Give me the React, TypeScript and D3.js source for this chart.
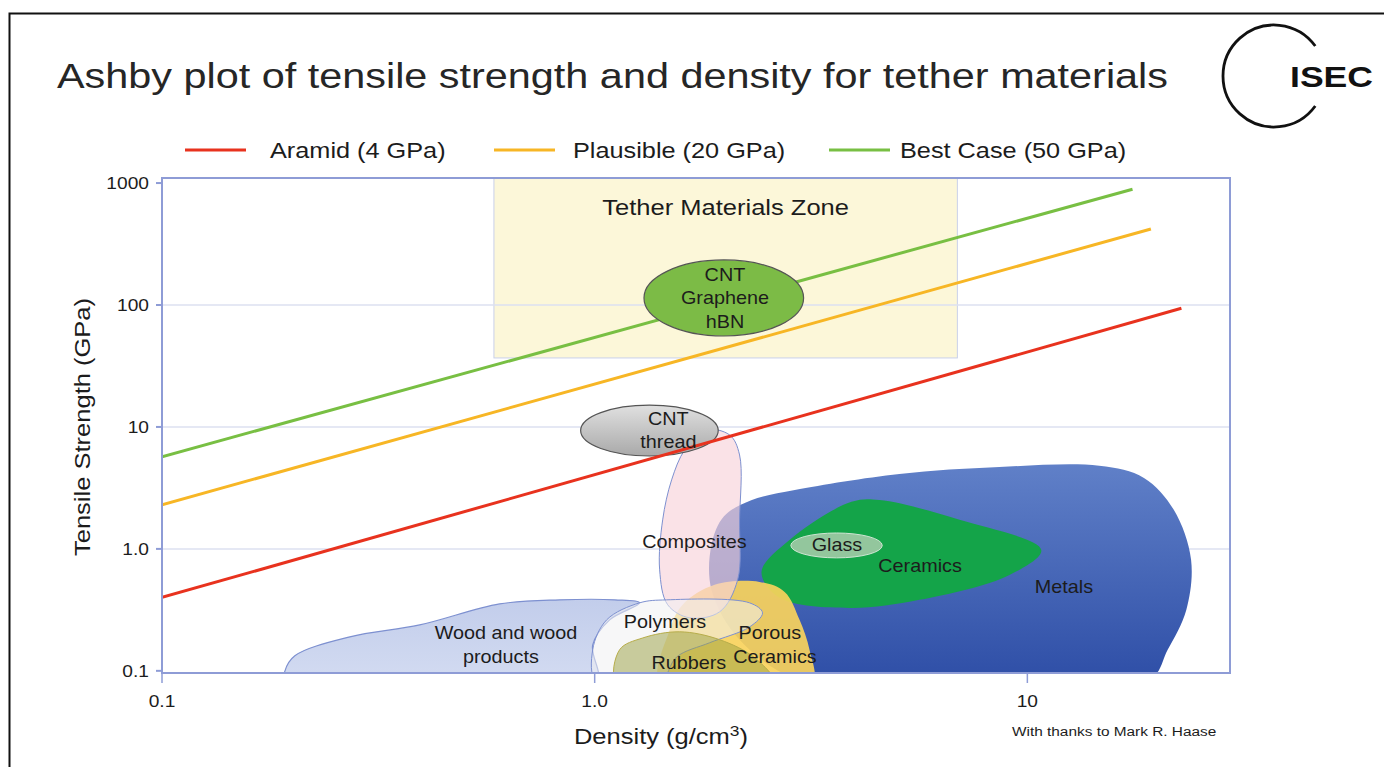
import React from "react";
import * as d3 from "d3";

// ---------- data ----------
const xTicks = [0.1, 1, 10];
const xTickLabels = ["0.1", "1.0", "10"];
const yTicks = [0.1, 1, 10, 100, 1000];
const yTickLabels = ["0.1", "1.0", "10", "100", "1000"];

const seriesNames = ["Aramid (4 GPa)", "Plausible (20 GPa)", "Best Case (50 GPa)"];
const seriesColors = ["#e8321e", "#f7b625", "#78bf43"];
const aramidLine: [number, number][] = [[0.1, 0.4], [22.7, 94]];
const plausibleLine: [number, number][] = [[0.1, 2.3], [19.3, 420]];
const bestCaseLine: [number, number][] = [[0.1, 5.7], [17.5, 890]];
const specificLines = [aramidLine, plausibleLine, bestCaseLine];

// Tether zone [densityMin, densityMax, strengthMin]
const tetherZone = [0.585, 6.89, 36.8];

// ellipses: [densityLeft, densityRight, strengthBottom, strengthTop]
const cntGrapheneEllipse = [1.3, 3.04, 55.7, 234];
const cntThreadEllipse = [0.928, 1.93, 5.78, 15.1];
const glassEllipse = [2.84, 4.62, 0.844, 1.35];

// material regions: [density, strength]
const woodRegion: [number, number][] = [
  [0.1924, 0.08], [0.1924, 0.1], [0.2028, 0.133], [0.2718, 0.19], [0.394, 0.238], [0.603, 0.354],
  [0.83, 0.382], [1.112, 0.382], [1.27, 0.361], [1.083, 0.262], [0.9895, 0.163], [1.011, 0.08], [0.5, 0.075],
];
const metalsRegion: [number, number][] = [
  [1.862, 1.079], [1.99, 1.85], [2.3, 2.5], [2.9, 3.04], [5.06, 4.12], [8.61, 4.7], [14.66, 4.8],
  [18.6, 3.82], [21.8, 2.09], [23.9, 0.813], [23.3, 0.316], [21.1, 0.149], [19.1, 0.084],
  [6.0, 0.075], [2.975, 0.084], [2.162, 0.18], [1.862, 0.461],
];
const ceramicsRegion: [number, number][] = [
  [2.43, 0.648], [2.82, 1.185], [3.92, 2.43], [4.55, 2.52], [6.97, 1.73], [10.77, 0.981],
  [9.09, 0.612], [5.63, 0.382], [3.88, 0.328], [2.675, 0.397],
];
const compositesRegion: [number, number][] = [
  [1.795, 9.45], [2.05, 8.6], [2.162, 5.89], [2.162, 1.73], [2.14, 0.557], [1.945, 0.305],
  [1.658, 0.272], [1.475, 0.348], [1.413, 0.673], [1.436, 1.73], [1.506, 3.68], [1.614, 6.48],
];
const polymersRegion: [number, number][] = [
  [1.27, 0.361], [1.467, 0.382], [2.28, 0.361], [2.443, 0.299], [2.28, 0.229], [1.844, 0.17],
  [1.547, 0.13], [1.413, 0.08], [1.011, 0.08], [0.9895, 0.149], [1.066, 0.262],
];
const porousCeramicsRegion: [number, number][] = [
  [1.597, 0.348], [1.893, 0.507], [2.404, 0.536], [2.748, 0.444], [2.975, 0.262], [3.137, 0.149],
  [3.188, 0.08], [2.2, 0.075], [1.413, 0.08], [1.49, 0.215],
];
const rubbersRegion: [number, number][] = [
  [1.124, 0.08], [1.142, 0.149], [1.291, 0.186], [1.572, 0.209], [1.945, 0.18], [2.342, 0.128],
  [2.6, 0.08], [1.8, 0.075],
];

// labels: [text, density, strength]
const regionLabels: [string, number, number][] = [
  ["Wood and wood", 0.624, 0.2],
  ["products", 0.607, 0.128],
  ["Polymers", 1.454, 0.247],
  ["Porous", 2.54, 0.2],
  ["Ceramics", 2.61, 0.128],
  ["Rubbers", 1.65, 0.113],
  ["Composites", 1.7, 1.12],
  ["Glass", 3.63, 1.06],
  ["Ceramics", 5.65, 0.711],
  ["Metals", 12.15, 0.478],
  ["CNT", 1.48, 11.4],
  ["thread", 1.48, 7.4],
  ["CNT", 2.0, 173],
  ["Graphene", 2.0, 111],
  ["hBN", 2.0, 71],
];

// ---------- layout ----------
const W = 1384;
const H = 767;
const x = d3.scaleLog().domain([0.1, 29.4]).range([162, 1230]);
const y = d3.scaleLog().domain([0.096, 1100]).range([673, 178]);
const FONT = "'Liberation Sans', Arial, Helvetica, sans-serif";
const axisColor = "#8e9cd6";
const regionStroke = "#7d90d0";

const areaPath = (pts: [number, number][]) =>
  d3.line<[number, number]>().x((d) => x(d[0])).y((d) => y(d[1])).curve(d3.curveCatmullRomClosed.alpha(0.5))(pts) || "";

function Ell({ e, fill, stroke, sw }: { e: number[]; fill: string; stroke: string; sw: number }) {
  const x0 = x(e[0]), x1 = x(e[1]), y0 = y(e[2]), y1 = y(e[3]);
  return <ellipse cx={(x0 + x1) / 2} cy={(y0 + y1) / 2} rx={(x1 - x0) / 2} ry={(y0 - y1) / 2} fill={fill} stroke={stroke} strokeWidth={sw} />;
}

function T({ x: tx, y: ty, size, sx = 1, anchor = "start", rot = 0, mid = false, weight, children }: any) {
  return (
    <text
      transform={`translate(${tx},${ty}) rotate(${rot}) scale(${sx},1)`}
      fontSize={size}
      fill="#1c1c1c"
      textAnchor={anchor}
      dominantBaseline={mid ? "middle" : undefined}
      fontWeight={weight}
    >
      {children}
    </text>
  );
}

export default function App() {
  const [px0, px1] = x.range();
  const [py0, py1] = y.range();
  const legendX = [185, 494, 829];
  const legendTextX = [270, 573, 900];
  const r = 51, cx = 1274, cy = 76, a = (36 * Math.PI) / 180;
  const arcD = `M${cx + r * Math.cos(a)},${cy - r * Math.sin(a)} A${r},${r} 0 1 0 ${cx + r * Math.cos(a)},${cy + r * Math.sin(a)}`;
  return (
    <svg width={W} height={H} style={{ position: "absolute", left: 0, top: 0, background: "#fff" }} fontFamily={FONT}>
      <defs>
        <clipPath id="plotClip">
          <rect x={px0} y={py1} width={px1 - px0} height={py0 - py1} />
        </clipPath>
        <linearGradient id="metalGrad" x1="0" y1="0" x2="0" y2="1">
          <stop offset="0" stopColor="#6080c8" />
          <stop offset="1" stopColor="#2c4ca5" />
        </linearGradient>
        <linearGradient id="threadGrad" x1="0" y1="0" x2="0" y2="1">
          <stop offset="0" stopColor="#e0e0e0" />
          <stop offset="1" stopColor="#a9a9a9" />
        </linearGradient>
        <linearGradient id="woodGrad" x1="0" y1="0" x2="0" y2="1">
          <stop offset="0" stopColor="#c2cdeb" />
          <stop offset="1" stopColor="#d5ddf2" />
        </linearGradient>
      </defs>

      {/* slide frame */}
      <path d={`M9.5,${H} V13.5 H${W}`} fill="none" stroke="#111" strokeWidth={2} />

      {/* title */}
      <text x={57} y={88} fontSize={35} fill="#262626" textLength={1111} lengthAdjust="spacingAndGlyphs">
        Ashby plot of tensile strength and density for tether materials
      </text>

      {/* logo */}
      <path d={arcD} fill="none" stroke="#111" strokeWidth={2.8} />
      <text x={1290} y={87} fontSize={30} fontWeight="bold" fill="#111" textLength={83} lengthAdjust="spacingAndGlyphs">ISEC</text>

      {/* legend */}
      {seriesNames.map((n, i) => (
        <g key={n}>
          <line x1={legendX[i]} x2={legendX[i] + 61} y1={150} y2={150} stroke={seriesColors[i]} strokeWidth={3} />
          <T x={legendTextX[i]} y={158} size={22} sx={1.15}>{n}</T>
        </g>
      ))}

      {/* tether zone */}
      <rect x={x(tetherZone[0])} y={py1} width={x(tetherZone[1]) - x(tetherZone[0])} height={y(tetherZone[2]) - py1} fill="#fcf7d9" stroke="#c9d0ea" strokeWidth={1} />
      <T x={(x(tetherZone[0]) + x(tetherZone[1])) / 2} y={215} size={22} sx={1.16} anchor="middle">Tether Materials Zone</T>

      {/* gridlines */}
      {yTicks.slice(1, 4).map((t) => (
        <line key={t} x1={px0} x2={px1} y1={y(t)} y2={y(t)} stroke="#dce1f1" strokeWidth={1.5} />
      ))}

      <g clipPath="url(#plotClip)">
        <path d={areaPath(woodRegion)} fill="url(#woodGrad)" stroke={regionStroke} strokeWidth={1.2} />
        <path d={areaPath(metalsRegion)} fill="url(#metalGrad)" />
        <path d={areaPath(ceramicsRegion)} fill="#14a449" />
        <Ell e={glassEllipse} fill="#93c69d" stroke="#cfe6d3" sw={1} />
        <path d={areaPath(porousCeramicsRegion)} fill="#f9d25c" fillOpacity={0.92} />
        <path d={areaPath(compositesRegion)} fill="#f7d3da" fillOpacity={0.65} stroke={regionStroke} strokeWidth={1} />
        <path d={areaPath(polymersRegion)} fill="#f0f0f3" fillOpacity={0.55} stroke={regionStroke} strokeWidth={1} />
        <path d={areaPath(rubbersRegion)} fill="#9aa040" fillOpacity={0.5} stroke="#b7ad4a" strokeWidth={1} />
        <Ell e={cntThreadEllipse} fill="url(#threadGrad)" stroke="#555" sw={1.2} />
        {specificLines.map((l, i) => (
          <line key={i} x1={x(l[0][0])} y1={y(l[0][1])} x2={x(l[1][0])} y2={y(l[1][1])} stroke={seriesColors[i]} strokeWidth={3} />
        ))}
        <Ell e={cntGrapheneEllipse} fill="#7cbb46" stroke="#555" sw={1.2} />
      </g>

      {/* plot frame */}
      <rect x={px0} y={py1} width={px1 - px0} height={py0 - py1} fill="none" stroke={axisColor} strokeWidth={2} />

      {/* axes ticks */}
      {yTicks.map((t, i) => (
        <g key={t}>
          <line x1={px0 - 6} x2={px0} y1={y(t)} y2={y(t)} stroke={axisColor} strokeWidth={2} />
          <T x={149} y={y(t) + 6} size={17} sx={1.13} anchor="end">{yTickLabels[i]}</T>
        </g>
      ))}
      {xTicks.map((t, i) => (
        <g key={t}>
          <line x1={x(t)} x2={x(t)} y1={py0} y2={py0 + 10} stroke={axisColor} strokeWidth={1.5} />
          <T x={x(t)} y={707} size={17} sx={1.13} anchor="middle">{xTickLabels[i]}</T>
        </g>
      ))}

      {/* region labels */}
      {regionLabels.map(([t, dx, dy], i) => (
        <T key={i} x={x(dx)} y={y(dy)} size={18} sx={1.1} anchor="middle" mid>{t}</T>
      ))}

      {/* axis titles */}
      <T x={90} y={427} size={22} sx={1.16} rot={-90} anchor="middle">Tensile Strength (GPa)</T>
      <T x={661} y={744} size={22} sx={1.16} anchor="middle">
        Density (g/cm<tspan dy={-8} fontSize={15}>3</tspan><tspan dy={8}>)</tspan>
      </T>
      <T x={1012} y={736} size={13.5} sx={1.14}>With thanks to Mark R. Haase</T>
    </svg>
  );
}
